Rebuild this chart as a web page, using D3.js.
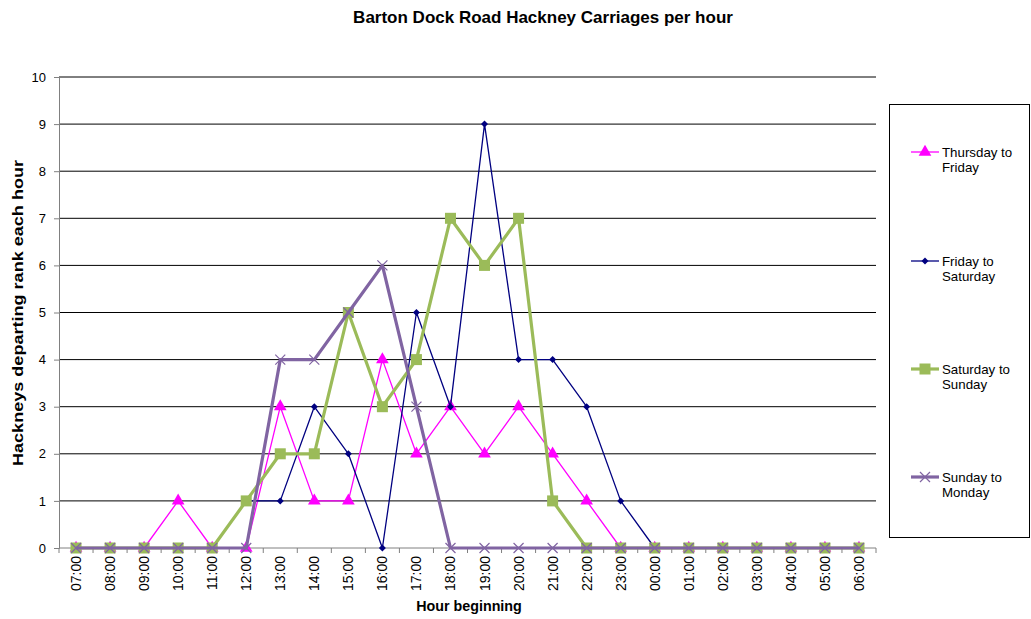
<!DOCTYPE html>
<html>
<head>
<meta charset="utf-8">
<script src="https://cdn.jsdelivr.net/npm/d3@7"></script>
<style>
  body { margin: 0; background: #fff; }
  svg { display: block; font-family: "Liberation Sans", Arial, sans-serif; }
</style>
</head>
<body>
<svg id="chart" width="1031" height="619"></svg>
<script>
// Hours of the night-time count, starting 07:00
const hours = ["07:00","08:00","09:00","10:00","11:00","12:00","13:00","14:00","15:00","16:00","17:00","18:00",
               "19:00","20:00","21:00","22:00","23:00","00:00","01:00","02:00","03:00","04:00","05:00","06:00"];
const thuFri = [0,0,0,1,0,0,3,1,1,4,2,3,2,3,2,1,0,0,0,0,0,0,0,0];
const friSat = [0,0,0,0,0,1,1,3,2,0,5,3,9,4,4,3,1,0,0,0,0,0,0,0];
const satSun = [0,0,0,0,0,1,2,2,5,3,4,7,6,7,1,0,0,0,0,0,0,0,0,0];
const sunMon = [0,0,0,0,0,0,4,4,5,6,3,0,0,0,0,0,0,0,0,0,0,0,0,0];
const yTicks = [0,1,2,3,4,5,6,7,8,9,10];

const series = [
  { name: ["Thursday to", "Friday"],  values: thuFri, color: "#ff00ff", width: 1.3, marker: "triangle" },
  { name: ["Friday to", "Saturday"],  values: friSat, color: "#000080", width: 1.3, marker: "diamond" },
  { name: ["Saturday to", "Sunday"],  values: satSun, color: "#9bbb59", width: 3.2, marker: "square" },
  { name: ["Sunday to", "Monday"],    values: sunMon, color: "#8064a2", width: 3.2, marker: "cross" }
];

const svg = d3.select("#chart");
const plotLeft = 59, plotRight = 876, plotTop = 77, plotBottom = 548;

const x = d3.scaleBand().domain(hours).range([plotLeft, plotRight]);
const y = d3.scaleLinear().domain([0, 10]).range([plotBottom, plotTop]);
const cx = h => x(h) + x.bandwidth() / 2;

// Title
svg.append("text")
  .attr("x", 543).attr("y", 23)
  .attr("text-anchor", "middle")
  .attr("font-size", 17).attr("font-weight", "bold")
  .text("Barton Dock Road Hackney Carriages per hour");

// Horizontal gridlines
svg.append("g")
  .selectAll("line")
  .data(yTicks.filter(d => d > 0))
  .join("line")
  .attr("x1", plotLeft).attr("x2", plotRight)
  .attr("y1", d => y(d)).attr("y2", d => y(d))
  .attr("stroke", "#000").attr("stroke-width", 1);

// Y axis
const yAxis = svg.append("g")
  .attr("transform", `translate(${plotLeft},0)`)
  .call(d3.axisLeft(y).tickValues(yTicks).tickSize(5).tickPadding(8).tickFormat(d3.format("d")));
yAxis.select(".domain").attr("stroke", "#808080");
yAxis.selectAll(".tick line").attr("stroke", "#808080");
yAxis.selectAll("text").attr("font-size", 13).attr("fill", "#000").attr("font-family", "Liberation Sans, Arial, sans-serif");

// X axis: ticks sit on the band boundaries
const xAxis = svg.append("g").attr("transform", `translate(0,${plotBottom})`);
xAxis.append("line")
  .attr("x1", plotLeft).attr("x2", plotRight)
  .attr("stroke", "#808080");
xAxis.selectAll("line.tk")
  .data(hours.concat(["end"]))
  .join("line")
  .attr("class", "tk")
  .attr("x1", (d, i) => i < hours.length ? x(d) : plotRight)
  .attr("x2", (d, i) => i < hours.length ? x(d) : plotRight)
  .attr("y1", 0).attr("y2", 5)
  .attr("stroke", "#808080");
xAxis.selectAll("text")
  .data(hours)
  .join("text")
  .attr("transform", d => `translate(${cx(d) + 5},8) rotate(-90)`)
  .attr("text-anchor", "end")
  .attr("font-size", 14)
  .text(d => d);

// Axis titles
svg.append("text")
  .attr("x", 469).attr("y", 611)
  .attr("text-anchor", "middle")
  .attr("font-size", 14.3).attr("font-weight", "bold")
  .text("Hour beginning");
svg.append("text")
  .attr("transform", "translate(23,313) rotate(-90)")
  .attr("text-anchor", "middle")
  .attr("font-size", 15.5).attr("font-weight", "bold")
  .attr("textLength", 306).attr("lengthAdjust", "spacingAndGlyphs")
  .text("Hackneys departing rank each hour");

// Marker drawing
function drawMarker(g, kind, color) {
  if (kind === "triangle") {
    g.append("path").attr("d", d3.symbol(d3.symbolTriangle, 70)()).attr("fill", color);
  } else if (kind === "diamond") {
    g.append("path").attr("d", "M0,-3.5L3.5,0L0,3.5L-3.5,0Z").attr("fill", color);
  } else if (kind === "square") {
    g.append("rect").attr("x", -5.5).attr("y", -5.5).attr("width", 11).attr("height", 11).attr("fill", color);
  } else if (kind === "cross") {
    g.append("path").attr("d", "M-5,-5L5,5M-5,5L5,-5").attr("stroke", color).attr("stroke-width", 1.2).attr("fill", "none");
  }
}

const line = d3.line().x((d, i) => cx(hours[i])).y(d => y(d));

series.forEach(s => {
  const g = svg.append("g");
  g.append("path")
    .datum(s.values)
    .attr("d", line)
    .attr("fill", "none")
    .attr("stroke", s.color)
    .attr("stroke-width", s.width)
    .attr("stroke-linejoin", "round");
  s.values.forEach((v, i) => {
    const m = g.append("g").attr("transform", `translate(${cx(hours[i])},${y(v)})`);
    drawMarker(m, s.marker, s.color);
  });
});

// Legend
const legend = svg.append("g");
legend.append("rect")
  .attr("x", 889.5).attr("y", 104.5)
  .attr("width", 140).attr("height", 433)
  .attr("fill", "#fff").attr("stroke", "#000").attr("stroke-width", 1);
const legendY = [152, 261, 369, 477];
series.forEach((s, i) => {
  const g = legend.append("g").attr("transform", `translate(0,${legendY[i]})`);
  g.append("line")
    .attr("x1", 911).attr("x2", 939)
    .attr("stroke", s.color).attr("stroke-width", s.width);
  const m = g.append("g").attr("transform", "translate(925,0)");
  drawMarker(m, s.marker, s.color);
  g.append("text")
    .attr("x", 942).attr("y", 5)
    .attr("font-size", 13.3)
    .selectAll("tspan")
    .data(s.name)
    .join("tspan")
    .attr("x", 942)
    .attr("dy", (d, j) => j === 0 ? 0 : 15)
    .text(d => d);
});
</script>
</body>
</html>
